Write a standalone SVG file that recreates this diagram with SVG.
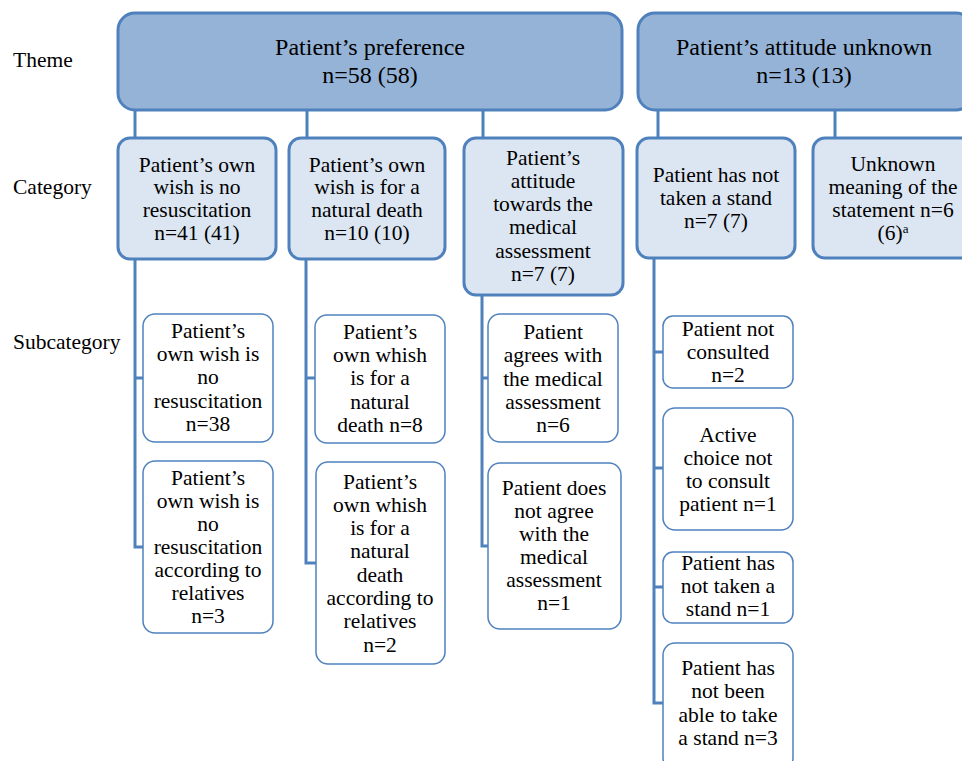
<svg xmlns="http://www.w3.org/2000/svg" width="962" height="761" viewBox="0 0 962 761">
<style>
text{font-family:'Liberation Serif','Tinos','Times New Roman','DejaVu Serif',serif;font-size:21.5px;fill:#000;text-anchor:middle}
.lbl{text-anchor:start}
.th{font-size:24px}
.theme{fill:#95b3d7;stroke:#4f81bd;stroke-width:3}
.cat{fill:#dce6f2;stroke:#4f81bd;stroke-width:3}
.sub{fill:#fff;stroke:#4f81bd;stroke-width:1.5}
.conn{fill:none;stroke:#4f81bd;stroke-width:3}
.sup{font-size:13px}
</style>
<rect width="962" height="761" fill="#fff"/>
<g id="labels" font-family="Liberation Serif, serif">
<text class="lbl" x="13" y="67">Theme</text>
<text class="lbl" x="13" y="194">Category</text>
<text class="lbl" x="13" y="349">Subcategory</text>
</g>
<g id="connectors">
<path class="conn" d="M135 110V138M307 110V138M483 110V138M658 110V138M835 110V138"/>
<path class="conn" d="M135 259V547H143M135 378H143"/>
<path class="conn" d="M306 259V563H316M306 378H315"/>
<path class="conn" d="M482 295V546H488M482 378H488"/>
<path class="conn" d="M654 258V703H663M654 352H663M654 468H663M654 587H663"/>
</g>
<g id="theme1">
<rect class="theme" x="118" y="13" width="504" height="97" rx="17"/>
<text class="th" x="370" y="55">Patient’s preference</text>
<text class="th" x="370" y="83">n=58 (58)</text>
</g>
<g id="theme2">
<rect class="theme" x="638" y="13" width="335" height="97" rx="17"/>
<text class="th" x="804" y="55">Patient’s attitude unknown</text>
<text class="th" x="804" y="83">n=13 (13)</text>
</g>
<g id="cat1">
<rect class="cat" x="118" y="138" width="158" height="121" rx="12"/>
<text x="197" y="172">Patient’s own</text>
<text x="197" y="194">wish is no</text>
<text x="197" y="217">resuscitation</text>
<text x="197" y="240">n=41 (41)</text>
</g>
<g id="cat2">
<rect class="cat" x="289" y="138" width="156" height="121" rx="12"/>
<text x="367" y="172">Patient’s own</text>
<text x="367" y="194">wish is for a</text>
<text x="367" y="217">natural death</text>
<text x="367" y="240">n=10 (10)</text>
</g>
<g id="cat3">
<rect class="cat" x="464" y="138" width="159" height="157" rx="12"/>
<text x="543" y="165">Patient’s</text>
<text x="543" y="188">attitude</text>
<text x="543" y="211">towards the</text>
<text x="543" y="234">medical</text>
<text x="543" y="258">assessment</text>
<text x="543" y="281">n=7 (7)</text>
</g>
<g id="cat4">
<rect class="cat" x="637" y="138" width="158" height="120" rx="12"/>
<text x="716" y="182">Patient has not</text>
<text x="716" y="205">taken a stand</text>
<text x="716" y="228">n=7 (7)</text>
</g>
<g id="cat5">
<rect class="cat" x="813" y="138" width="160" height="120" rx="12"/>
<text x="893" y="171">Unknown</text>
<text x="893" y="194">meaning of the</text>
<text x="893" y="217">statement n=6</text>
<text x="893" y="240">(6)<tspan class="sup" baseline-shift="super">a</tspan></text>
</g>
<g id="sub1a">
<rect class="sub" x="143" y="314" width="130" height="128" rx="12"/>
<text x="208" y="338">Patient’s</text>
<text x="208" y="361">own wish is</text>
<text x="208" y="384">no</text>
<text x="208" y="408">resuscitation</text>
<text x="208" y="431">n=38</text>
</g>
<g id="sub1b">
<rect class="sub" x="143" y="461" width="130" height="172" rx="12"/>
<text x="208" y="485">Patient’s</text>
<text x="208" y="508">own wish is</text>
<text x="208" y="531">no</text>
<text x="208" y="554">resuscitation</text>
<text x="208" y="577">according to</text>
<text x="208" y="600">relatives</text>
<text x="208" y="623">n=3</text>
</g>
<g id="sub2a">
<rect class="sub" x="315" y="315" width="130" height="128" rx="12"/>
<text x="380" y="339">Patient’s</text>
<text x="380" y="362">own whish</text>
<text x="380" y="385">is for a</text>
<text x="380" y="409">natural</text>
<text x="380" y="432">death n=8</text>
</g>
<g id="sub2b">
<rect class="sub" x="316" y="462" width="129" height="202" rx="12"/>
<text x="380" y="489">Patient’s</text>
<text x="380" y="512">own whish</text>
<text x="380" y="535">is for a</text>
<text x="380" y="558">natural</text>
<text x="380" y="582">death</text>
<text x="380" y="605">according to</text>
<text x="380" y="628">relatives</text>
<text x="380" y="652">n=2</text>
</g>
<g id="sub3a">
<rect class="sub" x="488" y="314" width="130" height="128" rx="12"/>
<text x="553" y="339">Patient</text>
<text x="553" y="362">agrees with</text>
<text x="553" y="386">the medical</text>
<text x="553" y="409">assessment</text>
<text x="553" y="432">n=6</text>
</g>
<g id="sub3b">
<rect class="sub" x="488" y="463" width="133" height="166" rx="12"/>
<text x="554" y="495">Patient does</text>
<text x="554" y="518">not agree</text>
<text x="554" y="541">with the</text>
<text x="554" y="564">medical</text>
<text x="554" y="587">assessment</text>
<text x="554" y="610">n=1</text>
</g>
<g id="sub4a">
<rect class="sub" x="663" y="316" width="130" height="72" rx="10"/>
<text x="728" y="336">Patient not</text>
<text x="728" y="359">consulted</text>
<text x="728" y="382">n=2</text>
</g>
<g id="sub4b">
<rect class="sub" x="663" y="408" width="130" height="122" rx="12"/>
<text x="728" y="442">Active</text>
<text x="728" y="465">choice not</text>
<text x="728" y="488">to consult</text>
<text x="728" y="511">patient n=1</text>
</g>
<g id="sub4c">
<rect class="sub" x="663" y="552" width="130" height="71" rx="10"/>
<text x="728" y="570">Patient has</text>
<text x="728" y="593">not taken a</text>
<text x="728" y="616">stand n=1</text>
</g>
<g id="sub4d">
<rect class="sub" x="663" y="643" width="130" height="127" rx="12"/>
<text x="728" y="675">Patient has</text>
<text x="728" y="698">not been</text>
<text x="728" y="722">able to take</text>
<text x="728" y="745">a stand n=3</text>
</g>
</svg>
